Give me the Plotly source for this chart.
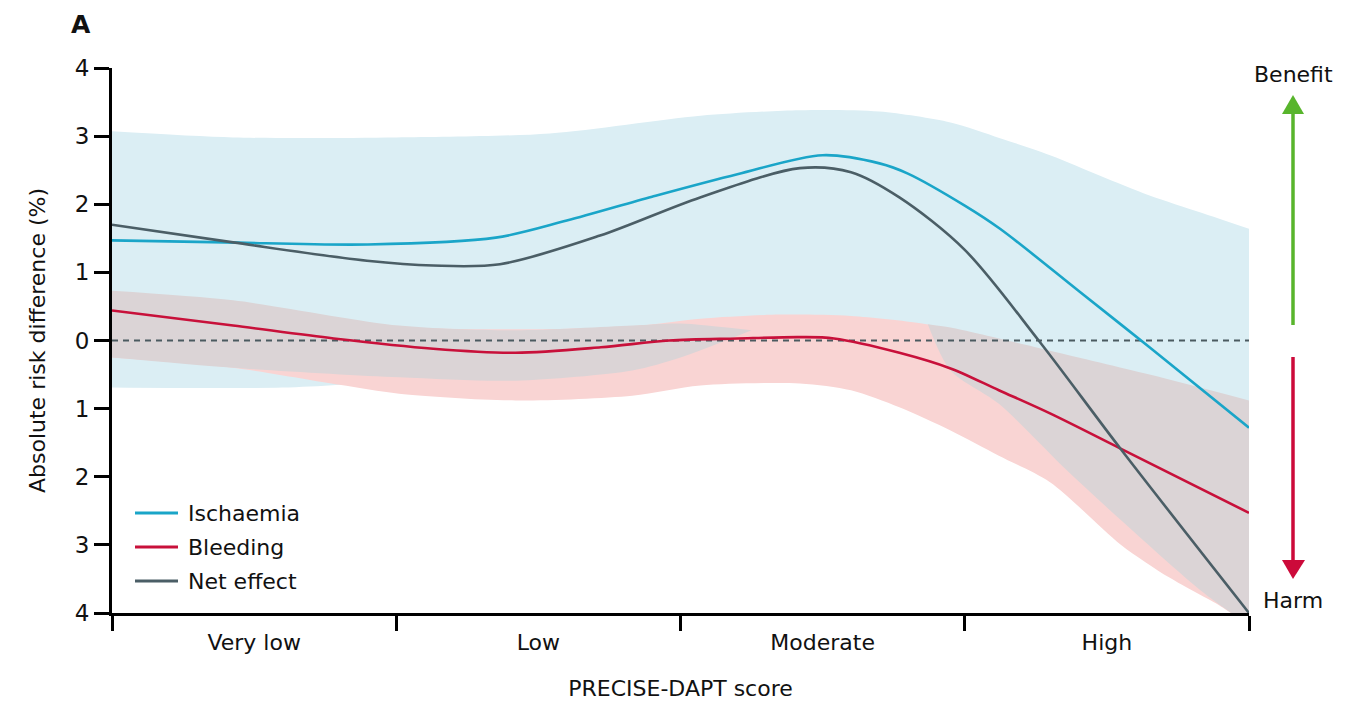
import plotly.graph_objects as go

# ---------------- data ----------------
categories = ["Very low", "Low", "Moderate", "High"]
cat_pos = [0.5, 1.5, 2.5, 3.5]
ytick_vals = [-4, -3, -2, -1, 0, 1, 2, 3, 4]
ytick_text = ["4", "3", "2", "1", "0", "1", "2", "3", "4"]
series_names = ["Ischaemia", "Bleeding", "Net effect"]

isch_x = [0, 0.4, 0.9, 1.35, 1.6, 1.9, 2.2, 2.5, 2.7, 2.8, 3.0, 3.124, 3.4, 3.65, 4.0]
isch_y = [1.47, 1.44, 1.41, 1.51, 1.76, 2.11, 2.44, 2.72, 2.6, 2.45, 1.98, 1.64, 0.73, -0.1, -1.28]

bleed_x = [0, 0.426, 0.78, 1.13, 1.42, 1.72, 1.96, 2.2, 2.42, 2.54, 2.77, 2.95, 3.12, 3.30, 3.55, 4.0]
bleed_y = [0.44, 0.22, 0.03, -0.12, -0.18, -0.1, 0.0, 0.03, 0.05, 0.03, -0.18, -0.41, -0.73, -1.07, -1.59, -2.53]

net_x = [0, 0.426, 0.897, 1.13, 1.365, 1.717, 2.069, 2.42, 2.6, 2.77, 3.0, 3.26, 3.55, 4.0]
net_y = [1.70, 1.44, 1.17, 1.10, 1.12, 1.54, 2.10, 2.53, 2.47, 2.10, 1.33, 0.0, -1.6, -4.0]

# shaded regions
blue_up_x = [0, 0.426, 1.0, 1.54, 2.07, 2.42, 2.7, 2.95, 3.124, 3.3, 3.476, 3.65, 3.83, 4.0]
blue_up_y = [3.07, 2.98, 2.98, 3.04, 3.3, 3.38, 3.36, 3.2, 2.97, 2.72, 2.42, 2.13, 1.88, 1.64]
blue_lo_x = [0, 0.6, 1.0, 1.5, 2.0, 2.4, 3.0, 3.5, 4.0]
blue_lo_y = [-0.69, -0.69, -0.6, -0.5, -0.3, -0.2, -0.3, -0.6, -1.0]

pink_up_x = [0, 1.0, 1.8, 2.07, 2.35, 2.6, 2.85, 3.0, 3.5, 4.0]
pink_up_y = [0.7, 0.2, 0.2, 0.32, 0.38, 0.36, 0.25, 0.12, -0.4, -0.98]
pink_lo_x = [0, 0.426, 0.8, 1.01, 1.42, 1.83, 2.07, 2.42, 2.6, 2.77, 2.95, 3.12, 3.3, 3.55, 3.72, 3.9, 3.97, 4.0]
pink_lo_y = [-0.25, -0.4, -0.65, -0.78, -0.88, -0.81, -0.66, -0.63, -0.73, -0.98, -1.32, -1.69, -2.08, -3.0, -3.48, -3.9, -4.1, -4.2]

grey1_up_x = [0, 0.426, 1.01, 1.42, 1.83, 2.0, 2.25]
grey1_up_y = [0.73, 0.59, 0.22, 0.15, 0.22, 0.25, 0.15]
grey1_lo_x = [0, 0.426, 1.01, 1.42, 1.83, 2.0, 2.25]
grey1_lo_y = [-0.25, -0.4, -0.54, -0.59, -0.44, -0.25, 0.15]

grey2_up_x = [2.87, 2.95, 3.3, 3.65, 4.0]
grey2_up_y = [0.24, 0.19, -0.15, -0.5, -0.88]
grey2_lo_x = [2.87, 2.95, 3.12, 3.36, 3.59, 3.83, 3.97, 4.0]
grey2_lo_y = [0.24, -0.44, -0.93, -1.91, -2.79, -3.67, -4.1, -4.2]

# ---------------- style ----------------
FONT = "DejaVu Sans"
FS = 22
C_ISCH = "#1aa5c8"
C_BLEED = "#c8103a"
C_NET = "#4b5e66"
F_BLUE = "#dbeef4"
F_PINK = "#f9d4d3"
F_GREY = "#dbd4d6"
TXT = "#111111"

fig = go.Figure()


def band(xl, yl, xu, yu, color):
    fig.add_trace(go.Scatter(x=xl, y=yl, mode="lines", line=dict(width=0, shape="spline", smoothing=0.8),
                             hoverinfo="skip", showlegend=False))
    fig.add_trace(go.Scatter(x=xu, y=yu, mode="lines", line=dict(width=0, shape="spline", smoothing=0.8),
                             fill="tonexty", fillcolor=color, hoverinfo="skip", showlegend=False))


band(blue_lo_x, blue_lo_y, blue_up_x, blue_up_y, F_BLUE)
band(pink_lo_x, pink_lo_y, pink_up_x, pink_up_y, F_PINK)
band(grey1_lo_x, grey1_lo_y, grey1_up_x, grey1_up_y, F_GREY)
band(grey2_lo_x, grey2_lo_y, grey2_up_x, grey2_up_y, F_GREY)

# zero reference line
fig.add_trace(go.Scatter(x=[0, 4], y=[0, 0], mode="lines",
                         line=dict(color="#4b5a60", width=2, dash="6px,5px"),
                         hoverinfo="skip", showlegend=False))

colors = [C_ISCH, C_BLEED, C_NET]
for name, xs, ys, col in zip(series_names, [isch_x, bleed_x, net_x], [isch_y, bleed_y, net_y], colors):
    fig.add_trace(go.Scatter(x=xs, y=ys, mode="lines", name=name, showlegend=False,
                             line=dict(color=col, width=2.6, shape="spline", smoothing=0.9)))

# plot area geometry (pixels) for paper conversions
L, R, T, B = 112, 1249, 68, 613
W, H = R - L, B - T


def px(x):
    return (x - L) / W


def py(y):
    return (B - y) / H


shapes = []
# benefit arrow
shapes.append(dict(type="line", xref="paper", yref="paper", x0=px(1293), x1=px(1293), y0=py(325), y1=py(112),
                   line=dict(color="#58b52c", width=3.5)))
shapes.append(dict(type="path", xref="paper", yref="paper",
                   path=f"M {px(1282)} {py(114)} L {px(1304)} {py(114)} L {px(1293)} {py(95)} Z",
                   fillcolor="#58b52c", line=dict(width=0)))
# harm arrow
shapes.append(dict(type="line", xref="paper", yref="paper", x0=px(1293), x1=px(1293), y0=py(357), y1=py(562),
                   line=dict(color="#cc0a3a", width=3.5)))
shapes.append(dict(type="path", xref="paper", yref="paper",
                   path=f"M {px(1282)} {py(560)} L {px(1305)} {py(560)} L {px(1293)} {py(579)} Z",
                   fillcolor="#cc0a3a", line=dict(width=0)))

annotations = [
    dict(text="<b>A</b>", xref="paper", yref="paper", x=px(81), y=py(25), showarrow=False,
         xanchor="center", yanchor="middle", font=dict(family=FONT, size=25, color=TXT)),
    dict(text="Benefit", xref="paper", yref="paper", x=px(1293), y=py(75), showarrow=False,
         xanchor="center", yanchor="middle", font=dict(family=FONT, size=FS, color=TXT)),
    dict(text="Harm", xref="paper", yref="paper", x=px(1293), y=py(600), showarrow=False,
         xanchor="center", yanchor="middle", font=dict(family=FONT, size=FS, color=TXT)),
]

# legend (drawn as line samples + labels)
leg_y = [513, 547, 581]
for name, col, yy in zip(series_names, colors, leg_y):
    shapes.append(dict(type="line", xref="paper", yref="paper", x0=px(135), x1=px(178), y0=py(yy), y1=py(yy),
                       line=dict(color=col, width=3)))
    annotations.append(dict(text=name, xref="paper", yref="paper", x=px(186), y=py(yy), showarrow=False,
                            xanchor="left", yanchor="middle", font=dict(family=FONT, size=FS, color=TXT)))

fig.update_layout(
    width=1350, height=701,
    margin=dict(l=L, r=1350 - R, t=T, b=701 - B),
    paper_bgcolor="white", plot_bgcolor="white",
    font=dict(family=FONT, size=FS, color=TXT),
    shapes=shapes, annotations=annotations,
    showlegend=False,
    xaxis=dict(range=[0, 4], tickvals=cat_pos, ticktext=categories, ticks="outside",
               ticklen=8, tickcolor="rgba(0,0,0,0)", showgrid=False, zeroline=False,
               showline=True, linecolor="black", linewidth=3, automargin=False,
               tickfont=dict(family=FONT, size=FS, color=TXT),
               minor=dict(tickvals=[0, 1, 2, 3, 4], ticks="outside", ticklen=15, tickwidth=3,
                          tickcolor="black", showgrid=False),
               title=dict(text="PRECISE-DAPT score", font=dict(family=FONT, size=FS, color=TXT), standoff=28)),
    yaxis=dict(range=[-4, 4], tickvals=ytick_vals, ticktext=ytick_text, ticks="outside",
               ticklen=15, tickwidth=3, tickcolor="black", showgrid=False, zeroline=False,
               showline=True, linecolor="black", linewidth=3, automargin=False,
               tickfont=dict(family=FONT, size=23, color=TXT),
               title=dict(text="Absolute risk difference (%)", font=dict(family=FONT, size=FS, color=TXT),
                          standoff=24)),
)

fig.write_html("out.html")
